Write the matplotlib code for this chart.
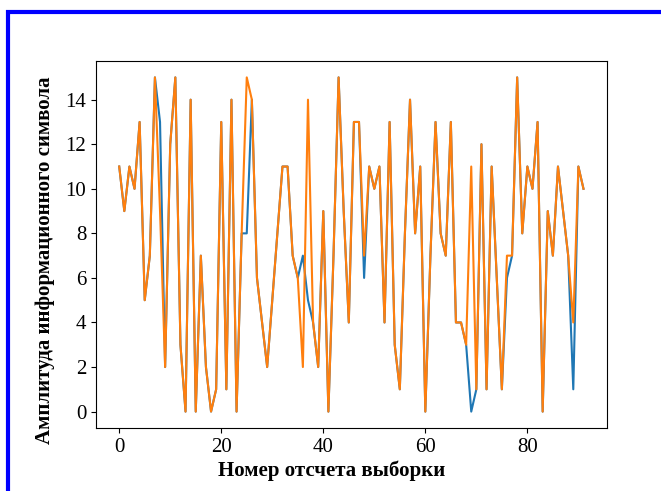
import matplotlib
matplotlib.use("Agg")
import matplotlib.pyplot as plt
from matplotlib.patches import Rectangle

# Transmitted symbol amplitudes (blue) and received/decoded amplitudes (orange)
sent = [11, 9, 11, 10, 13, 5, 7, 15, 13, 2,
        12, 15, 3, 0, 14, 0, 7, 2, 0, 1,
        13, 1, 14, 0, 8, 8, 14, 6, 4, 2,
        5, 8, 11, 11, 7, 6, 7, 5, 4, 2,
        9, 0, 7, 15, 9, 4, 13, 13, 6, 11,
        10, 11, 4, 13, 3, 1, 8, 14, 8, 11,
        0, 7, 13, 8, 7, 13, 4, 4, 3, 0,
        1, 12, 1, 11, 6, 1, 6, 7, 15, 8,
        11, 10, 13, 0, 9, 7, 11, 9, 7, 1,
        11, 10]
received = [11, 9, 11, 10, 13, 5, 7, 15, 9, 2,
            12, 15, 3, 0, 14, 0, 7, 2, 0, 1,
            13, 1, 14, 0, 8, 15, 14, 6, 4, 2,
            5, 8, 11, 11, 7, 6, 2, 14, 4, 2,
            9, 0, 7, 15, 9, 4, 13, 13, 7, 11,
            10, 11, 4, 13, 3, 1, 8, 14, 8, 11,
            0, 7, 13, 8, 7, 13, 4, 4, 3, 11,
            1, 12, 1, 11, 6, 1, 7, 7, 15, 8,
            11, 10, 13, 0, 9, 7, 11, 9, 7, 4,
            11, 10]
sample_idx = list(range(len(sent)))

x_label = "Номер отсчета выборки"
y_label = "Амплитуда информационного символа"

plt.rcParams['font.family'] = ['Liberation Serif', 'DejaVu Serif']

fig = plt.figure(figsize=(6.61, 4.91), dpi=100)
ax = fig.add_axes([96/661, 1-428.3/491, (606.7-96)/661, (428.3-60.7)/491])

ax.plot(sample_idx, sent, color='#1f77b4', linewidth=1.5)
ax.plot(sample_idx, received, color='#ff7f0e', linewidth=1.5)

ax.set_xticks([0, 20, 40, 60, 80])
ax.set_yticks([0, 2, 4, 6, 8, 10, 12, 14])
ax.tick_params(labelsize=15)
ax.set_xlabel(x_label, fontsize=15, fontweight='bold')
ax.set_ylabel(y_label, fontsize=15, fontweight='bold')
ax.xaxis.set_label_coords(0.462, -0.088)
ax.yaxis.set_label_coords(-0.08, 0.458)

# blue frame around the figure (open on right and bottom)
fig.patches.append(Rectangle((7.5/661, -0.1), 1.2, 1 - 12/491 + 0.1,
                             transform=fig.transFigure, fill=False,
                             edgecolor='#0000ff', linewidth=3.0,
                             zorder=10))

fig.savefig("out.png", dpi=100)
